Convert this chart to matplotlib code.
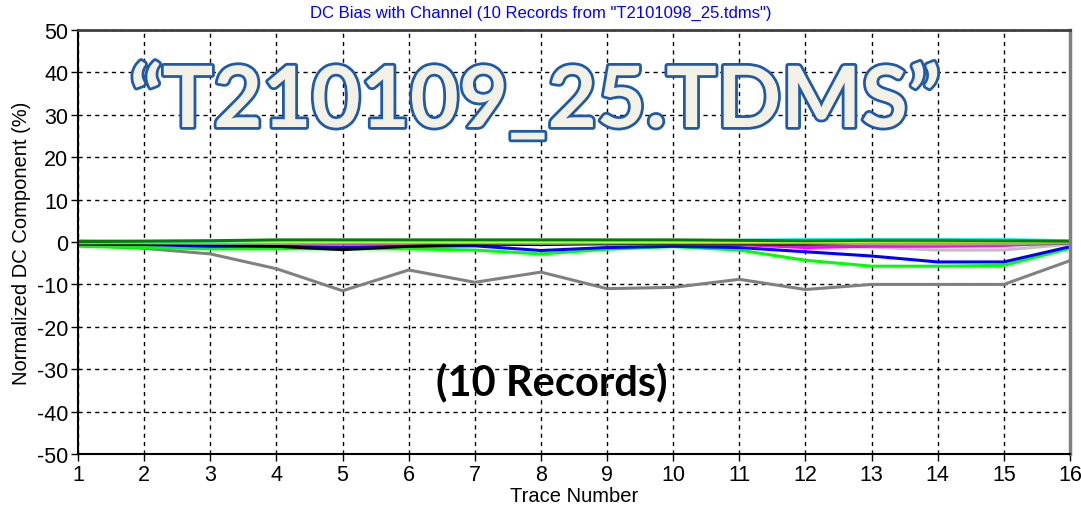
import matplotlib
matplotlib.use('Agg')
import matplotlib.pyplot as plt
import matplotlib.patheffects as pe
import numpy as np

# trace numbers and normalized DC component (%) for the 10 records
traces = list(range(1, 17))
gray = [-0.8, -1.5, -2.8, -6.3, -11.5, -6.6, -9.5, -7.1, -11.0, -10.7, -8.8, -11.2, -10.0, -10.0, -10.0, -4.4]
green = [-1.0, -1.3, -1.6, -1.6, -1.6, -1.6, -1.9, -2.8, -1.7, -1.1, -1.9, -4.3, -5.7, -5.7, -5.5, -1.5]
blue = [-0.5, -0.6, -1.0, -1.0, -1.2, -1.0, -0.9, -2.0, -1.3, -1.0, -1.3, -2.3, -3.3, -4.7, -4.7, -1.1]
silver = [-0.2, -0.3, -0.3, -0.4, -0.4, -0.4, -0.3, -0.4, -0.5, -0.5, -0.6, -0.7, -1.2, -1.9, -1.9, -0.5]
magenta = [0.3, 0.1, -0.2, -0.3, -0.4, -0.3, -0.3, -0.4, -0.5, -0.5, -0.6, -1.3, -1.0, -1.0, -0.8, -0.2]
black = [-0.3, -0.4, -0.6, -1.0, -1.8, -1.0, -0.5, -0.6, -0.3, -0.5, -0.4, -0.5, -0.3, -0.3, -0.3, -0.2]
dimgray = [-0.2, -0.2, -0.3, -0.3, -0.2, -0.2, -0.2, -0.3, -0.2, -0.2, -0.2, -0.2, -0.4, -0.5, -0.4, -0.2]
cyan = [0.0, 0.0, 0.1, 0.1, 0.1, 0.1, 0.1, 0.1, 0.1, 0.2, 0.4, 0.6, 0.6, 0.6, 0.6, 0.3]
yellow = [0.2, 0.3, 0.3, 0.2, 0.2, 0.2, 0.2, 0.2, 0.2, 0.2, 0.2, 0.2, 0.2, 0.2, 0.2, 0.2]
darkgreen = [0.1, 0.2, 0.3, 0.5, 0.5, 0.5, 0.5, 0.5, 0.5, 0.5, 0.4, 0.3, 0.4, 0.4, 0.3, 0.2]

series = [
    (gray, '#808080'), (green, '#00ff00'), (blue, '#0000ff'), (silver, '#c0c0c0'),
    (magenta, '#ff00ff'), (black, '#000000'), (dimgray, '#a0a0a0'), (cyan, '#00ffff'),
    (yellow, '#ffff00'), (darkgreen, '#008000'),
]

yticks = list(range(-50, 51, 10))

fig = plt.figure(figsize=(10.81, 5.10), dpi=100)
ax = fig.add_axes([0.0722, 0.1078, 0.9176, 0.8314])

for vals, col in series:
    ax.plot(traces, vals, color=col, lw=2.2, solid_joinstyle='miter')

ax.set_xlim(1, 16)
ax.set_ylim(-50, 50)
ax.set_xticks(traces)
ax.set_yticks(yticks)
ax.grid(True, color='black', linestyle=(0, (3, 3)), linewidth=1)

tickfont = dict(family=['Liberation Sans Narrow', 'Liberation Sans', 'DejaVu Sans'], size=15.5)
ax.set_xticklabels([str(t) for t in traces], fontdict=tickfont)
ax.set_yticklabels([str(t) for t in yticks], fontdict=tickfont)
ax.tick_params(direction='out', length=5, width=1, pad=2)

for s in ['left', 'bottom']:
    ax.spines[s].set_linewidth(1.5)
ax.spines['top'].set_linewidth(2)
ax.spines['top'].set_color('#404040')
ax.spines['right'].set_linewidth(2.5)
ax.spines['right'].set_color('#808080')

labfont = dict(family=['Liberation Sans Narrow', 'Liberation Sans', 'DejaVu Sans'], size=14.5)
ax.set_xlabel('Trace Number', fontdict=labfont, labelpad=1)
ax.set_ylabel('Normalized DC Component (%)', fontdict=labfont, labelpad=4)

fig.text(0.5, 0.974, 'DC Bias with Channel (10 Records from "T2101098_25.tdms")',
         ha='center', va='center', color='#0000ff', fontsize=12,
         family=['Liberation Sans Narrow', 'Liberation Sans', 'DejaVu Sans'])

big = ax.text(0.461, 0.83, '\u201cT210109_25.TDMS\u201d', transform=ax.transAxes,
              ha='center', va='center', fontsize=61, fontweight='bold',
              family=['Lato', 'DejaVu Sans'], color='#f3f0e6', zorder=5)
big.set_path_effects([pe.withStroke(linewidth=4, foreground='#1f5aa6')])

ax.text(0.478, 0.172, '(10 Records)', transform=ax.transAxes, ha='center', va='center',
        fontsize=30, fontweight='bold', family=['Lato', 'DejaVu Sans'], color='black',
        zorder=5)

fig.savefig('out.png', dpi=100)
